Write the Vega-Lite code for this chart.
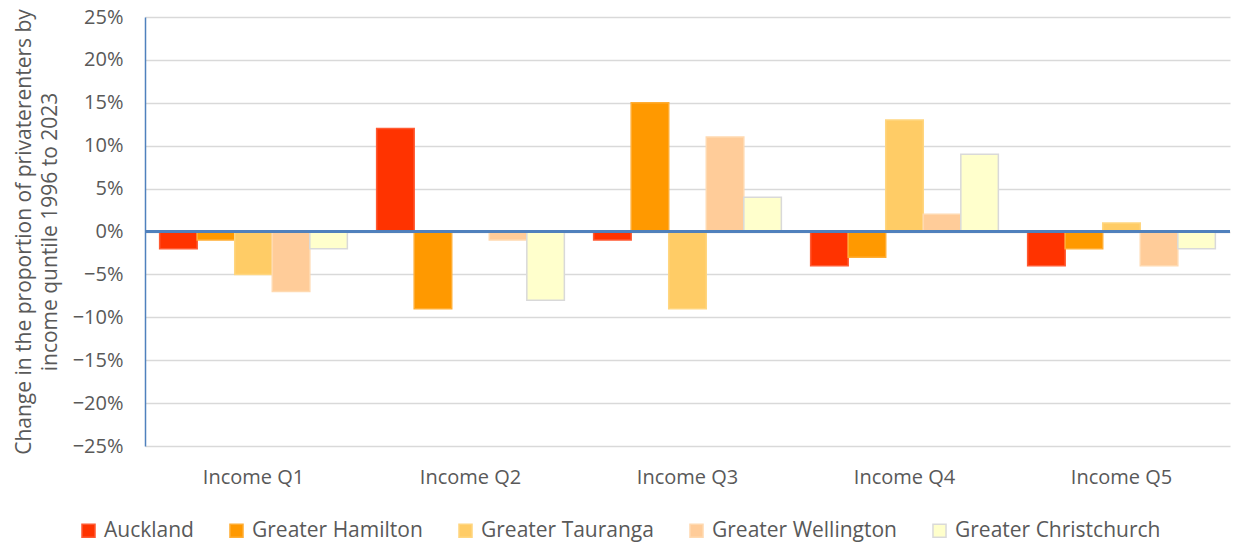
{
  "$schema": "https://vega.github.io/schema/vega-lite/v6.json",
  "width": 1085,
  "height": 429,
  "autosize": {"type": "none"},
  "padding": {"left": 145, "top": 17, "right": 6, "bottom": 98},
  "background": "white",
  "config": {"font": "Open Sans", "view": {"stroke": null}},
  "data": {
    "values": [
      {"quintile": "Income Q1", "region": "Auckland", "change": -0.02},
      {"quintile": "Income Q1", "region": "Greater Hamilton", "change": -0.01},
      {"quintile": "Income Q1", "region": "Greater Tauranga", "change": -0.05},
      {"quintile": "Income Q1", "region": "Greater Wellington", "change": -0.07},
      {"quintile": "Income Q1", "region": "Greater Christchurch", "change": -0.02},
      {"quintile": "Income Q2", "region": "Auckland", "change": 0.12},
      {"quintile": "Income Q2", "region": "Greater Hamilton", "change": -0.09},
      {"quintile": "Income Q2", "region": "Greater Tauranga", "change": 0.0},
      {"quintile": "Income Q2", "region": "Greater Wellington", "change": -0.01},
      {"quintile": "Income Q2", "region": "Greater Christchurch", "change": -0.08},
      {"quintile": "Income Q3", "region": "Auckland", "change": -0.01},
      {"quintile": "Income Q3", "region": "Greater Hamilton", "change": 0.15},
      {"quintile": "Income Q3", "region": "Greater Tauranga", "change": -0.09},
      {"quintile": "Income Q3", "region": "Greater Wellington", "change": 0.11},
      {"quintile": "Income Q3", "region": "Greater Christchurch", "change": 0.04},
      {"quintile": "Income Q4", "region": "Auckland", "change": -0.04},
      {"quintile": "Income Q4", "region": "Greater Hamilton", "change": -0.03},
      {"quintile": "Income Q4", "region": "Greater Tauranga", "change": 0.13},
      {"quintile": "Income Q4", "region": "Greater Wellington", "change": 0.02},
      {"quintile": "Income Q4", "region": "Greater Christchurch", "change": 0.09},
      {"quintile": "Income Q5", "region": "Auckland", "change": -0.04},
      {"quintile": "Income Q5", "region": "Greater Hamilton", "change": -0.02},
      {"quintile": "Income Q5", "region": "Greater Tauranga", "change": 0.01},
      {"quintile": "Income Q5", "region": "Greater Wellington", "change": -0.04},
      {"quintile": "Income Q5", "region": "Greater Christchurch", "change": -0.02}
    ]
  },
  "layer": [
    {
      "mark": {"type": "bar", "strokeWidth": 1.5},
      "encoding": {
        "x": {
          "field": "quintile",
          "type": "nominal",
          "scale": {"paddingInner": 0, "paddingOuter": 0},
          "axis": {
            "title": null,
            "labelAngle": 0,
            "domain": false,
            "ticks": false,
            "grid": false,
            "labelPadding": 21,
            "labelFontSize": 20,
            "labelColor": "#595959"
          }
        },
        "xOffset": {
          "field": "region",
          "type": "nominal",
          "sort": ["Auckland", "Greater Hamilton", "Greater Tauranga", "Greater Wellington", "Greater Christchurch"],
          "scale": {"paddingInner": 0, "paddingOuter": 0.39}
        },
        "y": {
          "field": "change",
          "type": "quantitative",
          "scale": {"domain": [-0.25, 0.25], "nice": false},
          "axis": {
            "values": [-0.25, -0.2, -0.15, -0.1, -0.05, 0, 0.05, 0.1, 0.15, 0.2, 0.25],
            "format": ".0%",
            "grid": true,
            "gridColor": "#D9D9D9",
            "gridWidth": 1.5,
            "domainColor": "#4F81BD",
            "domainWidth": 1.5,
            "ticks": false,
            "labelPadding": 22,
            "labelFontSize": 20,
            "labelColor": "#595959",
            "title": ["Change in the proportion of privaterenters by", "income quntile 1996 to 2023"],
            "titleFontSize": 21,
            "titleFontWeight": "normal",
            "titleColor": "#595959",
            "titlePadding": 12,
            "titleLineHeight": 26
          }
        },
        "color": {
          "field": "region",
          "type": "nominal",
          "sort": ["Auckland", "Greater Hamilton", "Greater Tauranga", "Greater Wellington", "Greater Christchurch"],
          "scale": {
            "domain": ["Auckland", "Greater Hamilton", "Greater Tauranga", "Greater Wellington", "Greater Christchurch"],
            "range": ["#FF3300", "#FF9900", "#FFCC66", "#FFCC99", "#FFFFCC"]
          },
          "legend": {
            "title": null,
            "orient": "none",
            "direction": "horizontal",
            "legendX": -67,
            "legendY": 503,
            "symbolType": "square",
            "symbolSize": 170,
            "symbolStrokeWidth": 1.5,
            "labelFontSize": 21,
            "labelColor": "#595959",
            "labelLimit": 400,
            "columnPadding": 32,
            "labelOffset": 5
          }
        },
        "stroke": {
          "field": "region",
          "type": "nominal",
          "sort": ["Auckland", "Greater Hamilton", "Greater Tauranga", "Greater Wellington", "Greater Christchurch"],
          "scale": {
            "domain": ["Auckland", "Greater Hamilton", "Greater Tauranga", "Greater Wellington", "Greater Christchurch"],
            "range": ["#FF5A33", "#FFAD33", "#FFD680", "#FFD9B0", "#D9D9D9"]
          }
        }
      }
    },
    {
      "mark": {"type": "rule", "color": "#4F81BD", "strokeWidth": 1.5},
      "encoding": {"y": {"datum": 0}}
    }
  ]
}
